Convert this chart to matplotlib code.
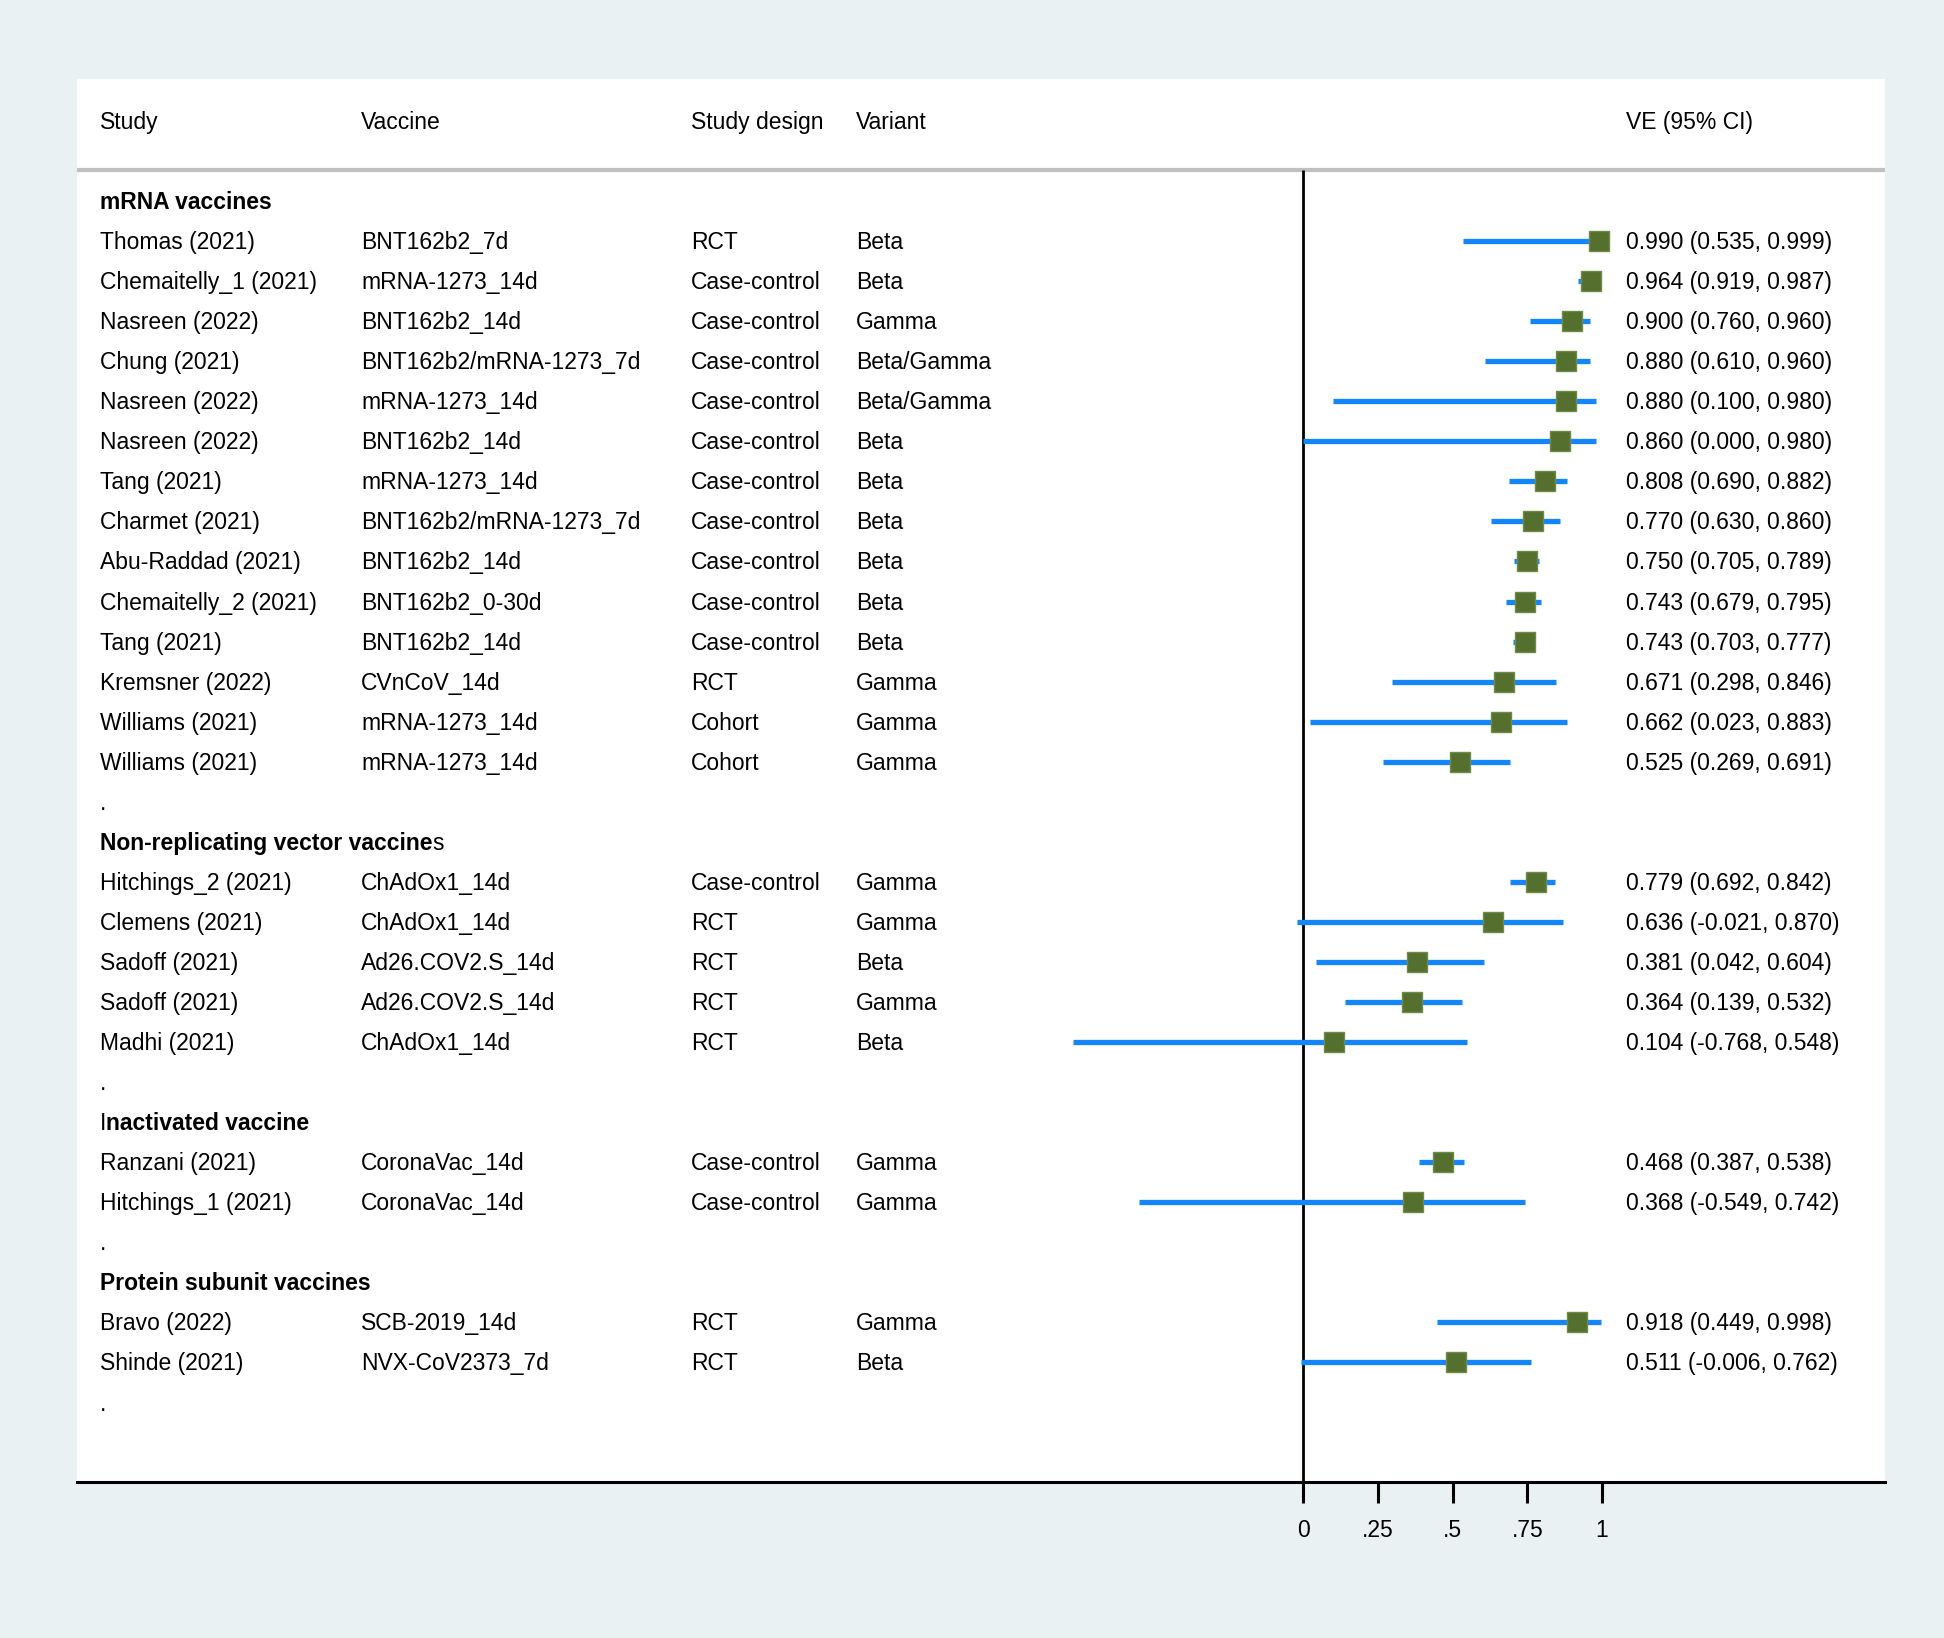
import matplotlib
matplotlib.use("Agg")
import matplotlib.pyplot as plt

plt.rcParams['font.family'] = ['Liberation Sans', 'DejaVu Sans']

# ---------------- data ----------------
group_names = ["mRNA vaccines", "Non-replicating vector vaccines",
               "Inactivated vaccine", "Protein subunit vaccines"]
group_sizes = [14, 5, 2, 2]

study = ["Thomas (2021)", "Chemaitelly_1 (2021)", "Nasreen (2022)", "Chung (2021)",
         "Nasreen (2022)", "Nasreen (2022)", "Tang (2021)", "Charmet (2021)",
         "Abu-Raddad (2021)", "Chemaitelly_2 (2021)", "Tang (2021)", "Kremsner (2022)",
         "Williams (2021)", "Williams (2021)",
         "Hitchings_2 (2021)", "Clemens (2021)", "Sadoff (2021)", "Sadoff (2021)",
         "Madhi (2021)",
         "Ranzani (2021)", "Hitchings_1 (2021)",
         "Bravo (2022)", "Shinde (2021)"]
vaccine = ["BNT162b2_7d", "mRNA-1273_14d", "BNT162b2_14d", "BNT162b2/mRNA-1273_7d",
           "mRNA-1273_14d", "BNT162b2_14d", "mRNA-1273_14d", "BNT162b2/mRNA-1273_7d",
           "BNT162b2_14d", "BNT162b2_0-30d", "BNT162b2_14d", "CVnCoV_14d",
           "mRNA-1273_14d", "mRNA-1273_14d",
           "ChAdOx1_14d", "ChAdOx1_14d", "Ad26.COV2.S_14d", "Ad26.COV2.S_14d",
           "ChAdOx1_14d",
           "CoronaVac_14d", "CoronaVac_14d",
           "SCB-2019_14d", "NVX-CoV2373_7d"]
design = ["RCT", "Case-control", "Case-control", "Case-control", "Case-control",
          "Case-control", "Case-control", "Case-control", "Case-control",
          "Case-control", "Case-control", "RCT", "Cohort", "Cohort",
          "Case-control", "RCT", "RCT", "RCT", "RCT",
          "Case-control", "Case-control",
          "RCT", "RCT"]
variant = ["Beta", "Beta", "Gamma", "Beta/Gamma", "Beta/Gamma", "Beta", "Beta", "Beta",
           "Beta", "Beta", "Beta", "Gamma", "Gamma", "Gamma",
           "Gamma", "Gamma", "Beta", "Gamma", "Beta",
           "Gamma", "Gamma",
           "Gamma", "Beta"]
ve = [0.990, 0.964, 0.900, 0.880, 0.880, 0.860, 0.808, 0.770, 0.750, 0.743, 0.743,
      0.671, 0.662, 0.525,
      0.779, 0.636, 0.381, 0.364, 0.104,
      0.468, 0.368,
      0.918, 0.511]
lo = [0.535, 0.919, 0.760, 0.610, 0.100, 0.000, 0.690, 0.630, 0.705, 0.679, 0.703,
      0.298, 0.023, 0.269,
      0.692, -0.021, 0.042, 0.139, -0.768,
      0.387, -0.549,
      0.449, -0.006]
hi = [0.999, 0.987, 0.960, 0.960, 0.980, 0.980, 0.882, 0.860, 0.789, 0.795, 0.777,
      0.846, 0.883, 0.691,
      0.842, 0.870, 0.604, 0.532, 0.548,
      0.538, 0.742,
      0.998, 0.762]

xticks = [0, 0.25, 0.5, 0.75, 1]
xticklabels = ["0", ".25", ".5", ".75", "1"]

# ---------------- layout ----------------
W, H = 1944, 1638
BG = '#EAF1F3'
LINE_BLUE = '#1585FB'
SQ_FACE = '#556F2E'
SQ_EDGE = '#6E8B48'
FS = 16.5

fig = plt.figure(figsize=(W / 100, H / 100), dpi=100, facecolor=BG)

px_left, px_right = 77, 1885
px_top, px_bottom = 79, 1482
px_zero, px_one = 1303, 1602
unit = px_one - px_zero

ax = fig.add_axes([px_left / W, (H - px_bottom) / H,
                   (px_right - px_left) / W, (px_bottom - px_top) / H])
ax.set_facecolor('white')


def px2x(px):
    return (px - px_zero) / unit


ax.set_xlim(px2x(px_left), px2x(px_right))
row0_px, row_h = 201, 40.05
ax.set_ylim((px_bottom - row0_px) / row_h, (px_top - row0_px) / row_h)

col_x = [px2x(100), px2x(361), px2x(691), px2x(856)]
ve_x = px2x(1626)
BOFF = 0.20  # baseline offset from row centre

# header
for label, cx in zip(["Study", "Vaccine", "Study design", "Variant"], col_x):
    ax.text(cx, -2 + BOFF, label, fontsize=FS, va='baseline', ha='left')
ax.text(ve_x, -2 + BOFF, "VE (95% CI)", fontsize=FS, va='baseline', ha='left')

sep_y = -0.77
ax.axhline(sep_y, color='#C0C0C0', lw=3.0, zorder=1)
ax.vlines(0, sep_y, ax.get_ylim()[0], color='black', lw=2.0, zorder=2)


def header(y, name):
    yb = y + BOFF
    if name.endswith("vaccines") and name.startswith("Non"):
        t = ax.text(col_x[0], yb, name[:-1], fontsize=FS, fontweight='bold',
                    va='baseline', ha='left')
        ax.annotate(name[-1], xy=(1, yb), xycoords=(t, 'data'), fontsize=FS,
                    va='baseline', ha='left')
    elif name.startswith("Inactivated"):
        t = ax.text(col_x[0], yb, name[0], fontsize=FS, va='baseline', ha='left')
        ax.annotate(name[1:], xy=(1, yb), xycoords=(t, 'data'), fontsize=FS,
                    fontweight='bold', va='baseline', ha='left')
    else:
        ax.text(col_x[0], yb, name, fontsize=FS, fontweight='bold',
                va='baseline', ha='left')


row = 0
k = 0
for gname, gsize in zip(group_names, group_sizes):
    header(row, gname)
    row += 1
    for _ in range(gsize):
        yb = row + BOFF
        for val, cx in zip([study[k], vaccine[k], design[k], variant[k]], col_x):
            ax.text(cx, yb, val, fontsize=FS, va='baseline', ha='left')
        ax.text(ve_x, yb, f"{ve[k]:.3f} ({lo[k]:.3f}, {hi[k]:.3f})",
                fontsize=FS, va='baseline', ha='left')
        ax.plot([lo[k], hi[k]], [row, row], color=LINE_BLUE, lw=3.8,
                solid_capstyle='butt', zorder=3)
        ax.plot([ve[k]], [row], marker='s', ms=14.5, mfc=SQ_FACE, mec=SQ_EDGE,
                mew=1.0, zorder=4, linestyle='none')
        row += 1
        k += 1
    ax.text(col_x[0], row + BOFF, ".", fontsize=FS, va='baseline', ha='left')
    row += 1

for s in ['top', 'right', 'left']:
    ax.spines[s].set_visible(False)
ax.spines['bottom'].set_linewidth(2.2)
ax.spines['bottom'].set_color('black')
ax.set_yticks([])
ax.set_xticks(xticks)
ax.set_xticklabels(xticklabels, fontsize=FS)
ax.tick_params(axis='x', direction='out', length=15, width=2.2, pad=11.5,
               color='black')

fig.savefig("out.png", dpi=100, facecolor=BG)
